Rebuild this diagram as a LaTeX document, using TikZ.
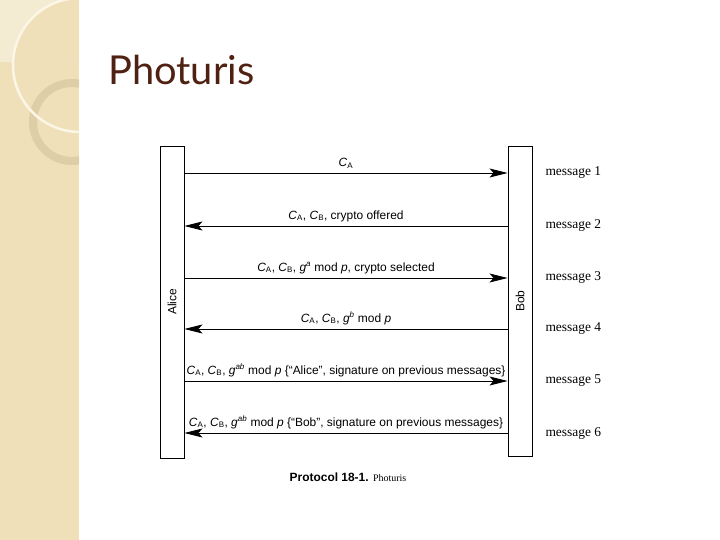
\documentclass[tikz,border=0pt]{standalone}
\usepackage{fontspec}
\setmainfont{Liberation Sans}
\newfontfamily\titlefont{Lato}
\newfontfamily\serifface{Liberation Serif}
\usetikzlibrary{arrows.meta,positioning}
\definecolor{sideBeige}{HTML}{EFE0BA}
\definecolor{sidePale}{HTML}{F4EBD3}
\definecolor{sideRing}{HTML}{DDCEA8}
\definecolor{sideLine}{HTML}{FBF6E6}
\definecolor{titleBrown}{HTML}{4E2112}
\tikzset{
  lifeline/.style={rectangle, draw=black, line width=0.9bp, minimum width=24bp, minimum height=312bp, inner sep=0pt},
  who/.style={rotate=90, font=\fontsize{12}{14}\selectfont},
  msg/.style={-{Stealth[length=18bp,width=9bp,inset=4bp]}, line width=0.9bp},
  msglabel/.style={above=3bp, font=\fontsize{12}{14}\selectfont, inner sep=1bp},
  stepname/.style={anchor=west, font=\serifface\fontsize{13.5}{15}\selectfont}
}
\newcommand{\pc}[1]{\textit{C}\textsubscript{#1}}
\newcommand{\gpow}[1]{\textit{g}\textsuperscript{\textit{#1}}}
\begin{document}
\begin{tikzpicture}[x=1bp,y=-1bp]
\useasboundingbox (0,0) rectangle (720,540);
% side strip
\fill[sideBeige] (0,0) rectangle (79,540);
\begin{scope}
  \clip (0,0) rectangle (79,62);
  \fill[sidePale, even odd rule] (0,0) rectangle (79,62) (80,65) circle (67);
\end{scope}
\begin{scope}
  \clip (0,0) rectangle (79,540);
  \draw[sideRing, line width=8bp] (72,122) circle (39);
  \draw[sideLine, line width=2.5bp] (80,65) circle (67);
\end{scope}
% title
\node[anchor=base west, inner sep=0pt, text=titleBrown, font=\titlefont\fontsize{40}{46}\selectfont] (title) at (108,85) {Photuris};
% the two parties
\node[lifeline] (alice) at (172,302) {};
\node[lifeline, minimum height=310bp] (bob) at (520,301) {};
\node[who] (alicename) at (alice.center) {Alice};
\node[who] (bobname) at (bob.center) {Bob};
% message rows
\coordinate (m1) at (0,173);
\coordinate (m2) at (0,226);
\coordinate (m3) at (0,278);
\coordinate (m4) at (0,329);
\coordinate (m5) at (0,381);
\coordinate (m6) at (0,433);
\draw[msg] (alice.east |- m1) -- node[msglabel] {\pc{A}} (bob.west |- m1);
\draw[msg] (bob.west |- m2) -- node[msglabel] {\pc{A}, \pc{B}, crypto offered} (alice.east |- m2);
\draw[msg] (alice.east |- m3) -- node[msglabel] {\pc{A}, \pc{B}, \gpow{a} mod \textit{p}, crypto selected} (bob.west |- m3);
\draw[msg] (bob.west |- m4) -- node[msglabel] {\pc{A}, \pc{B}, \gpow{b} mod \textit{p}} (alice.east |- m4);
\draw[msg] (alice.east |- m5) -- node[msglabel] {\pc{A}, \pc{B}, \gpow{ab} mod \textit{p} \{``Alice'', signature on previous messages\}} (bob.west |- m5);
\draw[msg] (bob.west |- m6) -- node[msglabel] {\pc{A}, \pc{B}, \gpow{ab} mod \textit{p} \{``Bob'', signature on previous messages\}} (alice.east |- m6);
% step names
\node[stepname] (step1) at (542,173) {message 1};
\node[stepname] (step2) at (542,225) {message 2};
\node[stepname] (step3) at (542,277) {message 3};
\node[stepname] (step4) at (542,329) {message 4};
\node[stepname] (step5) at (542,381) {message 5};
\node[stepname] (step6) at (542,433) {message 6};
% caption
\node[anchor=base] (caption) at (348,481) {\fontsize{12}{14}\selectfont\bfseries Protocol 18-1. {\serifface\mdseries\fontsize{10}{12}\selectfont Photuris}};
\end{tikzpicture}
\end{document}
